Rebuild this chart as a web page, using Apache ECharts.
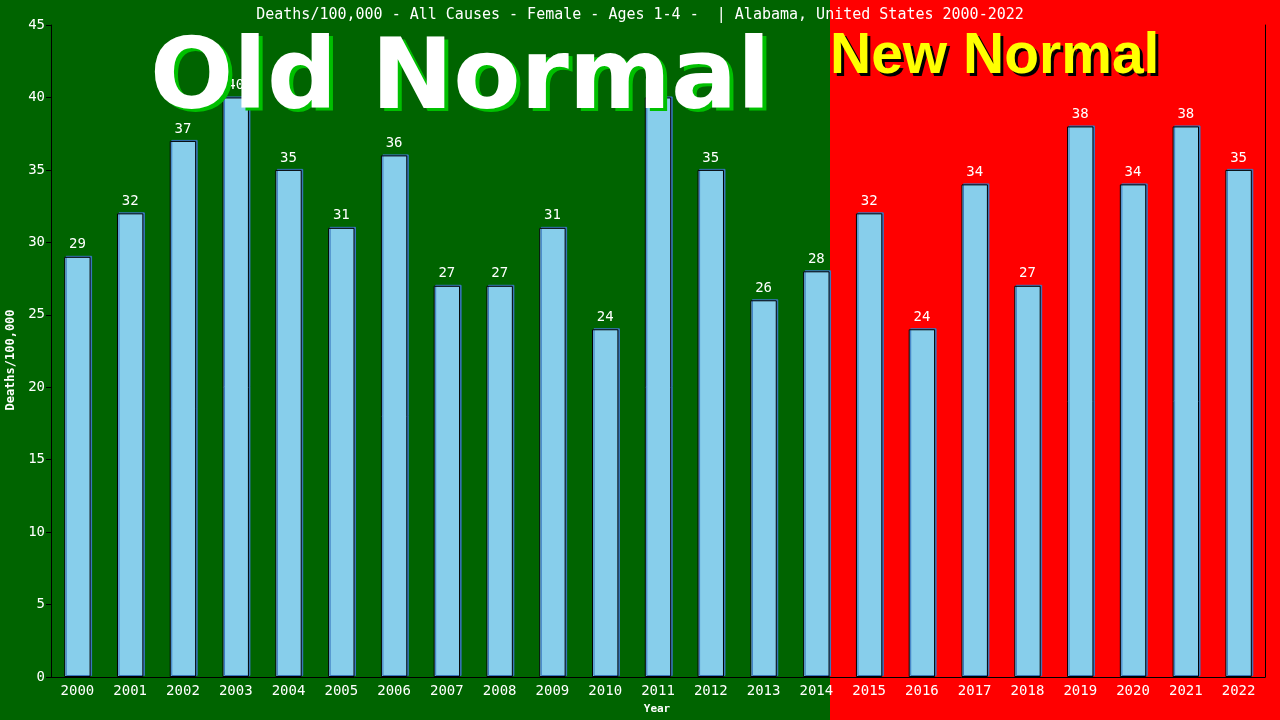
<!DOCTYPE html>
<html><head><meta charset="utf-8">
<script src="https://cdn.jsdelivr.net/npm/echarts@6/dist/echarts.min.js"></script>
<style>html,body{margin:0;padding:0;background:#006400}#c{width:1280px;height:720px}</style>
</head><body><div id="c"></div>
<script>
const years = ['2000','2001','2002','2003','2004','2005','2006','2007','2008','2009','2010','2011','2012','2013','2014','2015','2016','2017','2018','2019','2020','2021','2022'];
const deaths = [29,32,37,40,35,31,36,27,27,31,24,40,35,26,28,32,24,34,27,38,34,38,35];
const yTicks = [0,5,10,15,20,25,30,35,40,45];
const titleText = 'Deaths/100,000 - All Causes - Female - Ages 1-4 -  | Alabama, United States 2000-2022';
const splitIndex = 15; // first "New Normal" year

const mono = "'DejaVu Sans Mono', monospace";
const chart = echarts.init(document.getElementById('c'));
const gridL = 51, gridR = 15, gridT = 25, gridB = 43;

function build(splitX) {
  return {
    animation: false,
    backgroundColor: '#006400',
    title: {
      text: titleText, left: 'center', top: 3,
      textStyle: {color: '#fff', fontFamily: mono, fontSize: 15, fontWeight: 'normal'}
    },
    grid: {left: gridL, right: gridR, top: gridT, bottom: gridB},
    xAxis: {
      type: 'category', data: years,
      axisLine: {lineStyle: {color: '#000', width: 1}},
      axisTick: {show: false},
      axisLabel: {color: '#fff', fontFamily: mono, fontSize: 14, margin: 7, interval: 0}
    },
    yAxis: [{
      type: 'value', min: yTicks[0], max: yTicks[yTicks.length-1], interval: 5,
      axisLine: {show: true, lineStyle: {color: '#000', width: 1}},
      axisTick: {show: true, length: 5, lineStyle: {color: '#000'}},
      axisLabel: {color: '#fff', fontFamily: mono, fontSize: 14, margin: 6},
      splitLine: {show: false}
    }, {
      type: 'value', min: 0, max: 45, position: 'right',
      axisLine: {show: true, lineStyle: {color: '#000', width: 1}},
      axisTick: {show: false}, axisLabel: {show: false}, splitLine: {show: false}
    }],
    graphic: [
      {type: 'rect', z: -10, silent: true, shape: {x: splitX, y: 0, width: 1280 - splitX, height: 720}, style: {fill: '#ff0000'}},
      {type: 'text', z: 100, left: 5, top: 'middle', rotation: Math.PI/2,
        style: {text: 'Deaths/100,000', fill: '#fff', font: "bold 12px 'DejaVu Sans Mono'"}},
      {type: 'text', z: 100, x: 657, y: 709,
        style: {text: 'Year', fill: '#fff', font: "bold 11px 'DejaVu Sans Mono'", align: 'center', verticalAlign: 'middle'}},
      {type: 'text', z: 100, x: 154, y: 86,
        style: {text: 'Old Normal', fill: '#00c000', font: "bold 98px 'DejaVu Sans'", align: 'left', verticalAlign: 'middle'}},
      {type: 'text', z: 101, x: 150, y: 83,
        style: {text: 'Old Normal', fill: '#ffffff', font: "bold 98px 'DejaVu Sans'", align: 'left', verticalAlign: 'middle'}},
      {type: 'text', z: 100, x: 833, y: 60,
        style: {text: 'New Normal', fill: '#000', font: "bold 57px 'Liberation Sans'", align: 'left', verticalAlign: 'middle'}},
      {type: 'text', z: 101, x: 830, y: 57,
        style: {text: 'New Normal', fill: '#ffff00', font: "bold 57px 'Liberation Sans'", align: 'left', verticalAlign: 'middle'}}
    ],
    series: [{
      type: 'bar', data: deaths, barWidth: '50%',
      itemStyle: {color: '#87ceeb', borderColor: '#000', borderWidth: 1,
        shadowColor: '#3a78c0', shadowOffsetX: 1.5, shadowOffsetY: -1, shadowBlur: 0},
      label: {show: true, position: 'top', distance: 5, color: '#fff', fontFamily: mono, fontSize: 14}
    }]
  };
}
chart.setOption(build(830));
// place the background split at the right edge of the last "Old Normal" bar
const c1 = chart.convertToPixel({xAxisIndex: 0}, splitIndex - 1);
const c2 = chart.convertToPixel({xAxisIndex: 0}, splitIndex);
const sx = Math.round((c1 + c2) / 2 - (c2 - c1) * 0.25);
chart.setOption({graphic: [{type: 'rect', shape: {x: sx, width: 1280 - sx}}]}, {replaceMerge: []});
</script></body></html>
